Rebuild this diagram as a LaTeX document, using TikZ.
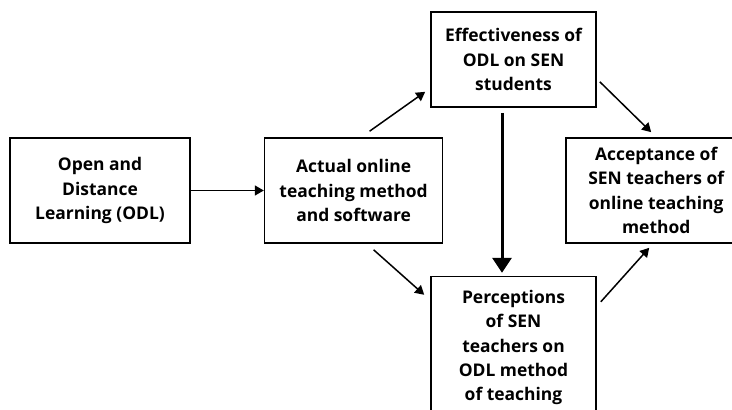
\documentclass[tikz,border=0pt]{standalone}
\usepackage{fontspec}
\setmainfont{Open Sans}
\usetikzlibrary{positioning,arrows.meta}

\tikzset{
  box/.style={draw, line width=1.6bp, align=center, inner sep=0pt,
    font=\bfseries\fontsize{17.5}{24.5}\selectfont,
    minimum width=178bp, minimum height=105bp},
  arr/.style={line width=1.5bp, -{Triangle[length=9bp,width=10bp]}},
  bigarr/.style={line width=3bp, -{Triangle[length=15bp,width=19bp]}}
}

\begin{document}
\begin{tikzpicture}[x=1bp,y=1bp]
\useasboundingbox (0,0) rectangle (732,409);
% Define nodes
\node[box, minimum width=180bp] (odl) at (100,218.5) {Open and\\Distance\\Learning (ODL)};
\node[box, right=73bp of odl] (act) {Actual online\\teaching method\\and software};
\node[box, minimum width=165bp, minimum height=95bp] (eff) at (513.5,349.5) {Effectiveness of\\ODL on SEN\\students};
\node[box, minimum width=165bp, minimum height=142bp, below=168bp of eff] (per) {Perceptions\\of SEN\\teachers on\\ODL method\\of teaching};
\node[box, minimum width=180bp, right=122bp of act] (acc) {Acceptance of\\SEN teachers of\\online teaching\\method};

% Connect the nodes
\draw[arr] (odl) -- (act);
\draw[arr] ([shift={(16,6)}]act.north) -- ([shift={(-5,16)}]eff.south west);
\draw[arr] ([shift={(20,-6)}]act.south) -- ([shift={(-6,-19)}]per.north west);
\draw[bigarr] ([shift={(-11.5,-5)}]eff.south) -- ([shift={(-11.5,3)}]per.north);
\draw[arr] ([shift={(3,26)}]eff.south east) -- ([shift={(-5,5)}]acc.north);
\draw[arr] ([shift={(4,-26)}]per.north east) -- ([shift={(-7,-4)}]acc.south);
\end{tikzpicture}
\end{document}
